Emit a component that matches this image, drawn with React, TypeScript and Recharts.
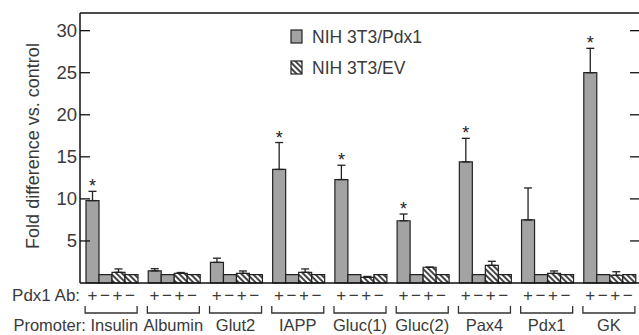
import React from 'react';
import { BarChart, Bar, XAxis, YAxis, ErrorBar, LabelList, Legend, ReferenceLine } from 'recharts';

const promoters = ['Insulin', 'Albumin', 'Glut2', 'IAPP', 'Gluc(1)', 'Gluc(2)', 'Pax4', 'Pdx1', 'GK'];
const pdx1Plus = [9.8, 1.45, 2.45, 13.5, 12.3, 7.4, 14.4, 7.5, 25.0];
const pdx1PlusErr = [1.1, 0.25, 0.5, 3.2, 1.7, 0.8, 2.8, 3.8, 2.9];
const pdx1Minus = [1, 1, 1, 1, 1, 1, 1, 1, 1];
const evPlus = [1.27, 1.15, 1.15, 1.27, 0.68, 1.87, 2.1, 1.15, 0.92];
const evPlusErr = [0.4, 0.1, 0.28, 0.4, 0.1, 0.0, 0.48, 0.28, 0.42];
const evMinus = [1, 1, 1, 1, 1, 1, 1, 1, 1];
const significant = [true, false, false, true, true, true, true, false, true];
const yTicks = [5, 10, 15, 20, 25, 30];
const abSigns = ['+', '−', '+', '−'];

const FONT = '"Liberation Sans", Arial, Helvetica, sans-serif';
const TEXT = '#3a3a3a';
const GRAY = '#a3a3a3';
const EDGE = '#222';

const data = promoters.map((p, i) => ({
  promoter: p,
  pdx1Plus: pdx1Plus[i],
  pdx1PlusErr: [0, pdx1PlusErr[i]],
  pdx1Minus: pdx1Minus[i],
  evPlus: evPlus[i],
  evPlusErr: [0, evPlusErr[i]],
  evMinus: evMinus[i],
}));

const YTick = (props: any) => {
  const { x, y, payload } = props;
  return (
    <g>
      <line x1={x} x2={x + 10} y1={y} y2={y} stroke="#111" strokeWidth={1.3} />
      <line x1={630} x2={640} y1={y} y2={y} stroke="#111" strokeWidth={1.3} />
      <text x={x - 3} y={y} textAnchor="end" dominantBaseline="central" fontFamily={FONT} fontSize={18.5} fill={TEXT}>
        {payload.value}
      </text>
    </g>
  );
};

const XTick = (props: any) => {
  const { x, y, payload, index } = props;
  const bw = 12.5;
  const offs = [-1.5 * bw, -0.5 * bw, 0.5 * bw, 1.5 * bw];
  return (
    <g fontFamily={FONT} fill={TEXT}>
      {offs.map((o, k) => (
        <text key={k} x={x + o} y={y + 12} textAnchor="middle" dominantBaseline="central" fontSize={17} fill={TEXT}>
          {abSigns[k]}
        </text>
      ))}
      <path d={`M${x - 26},${y + 23}V${y + 30}H${x + 26}V${y + 23}`} fill="none" stroke="#333" strokeWidth={1.3} />
      {index === 0 ? (
        <>
          <text x={x - 31} y={y + 12} textAnchor="end" dominantBaseline="central" fontSize={17} fill={TEXT}>Pdx1 Ab:</text>
          <text x={x + 27} y={y + 47.5} textAnchor="end" fontSize={16.5} fill={TEXT}>Promoter: Insulin</text>
        </>
      ) : (
        <text x={x} y={y + 47.5} textAnchor="middle" fontSize={16.5} fill={TEXT}>{payload.value}</text>
      )}
    </g>
  );
};

const Star = (props: any) => {
  const { x, y, width, height, value, index } = props;
  if (!significant[index] || !value) return null;
  const errTop = y - (pdx1PlusErr[index] * height) / value;
  return (
    <text x={x + width / 2} y={errTop + 1} textAnchor="middle" fontFamily={FONT} fontSize={18} fill="#222">
      *
    </text>
  );
};

const LegendBox = () => (
  <svg width={200} height={56}>
    <defs>
      <pattern id="hatchLegend" patternUnits="userSpaceOnUse" width={4} height={4} patternTransform="rotate(-45)">
        <rect width={4} height={4} fill="#fff" />
        <rect width={2} height={4} fill="#444" />
      </pattern>
    </defs>
    <rect x={2} y={2} width={11} height={13} fill={GRAY} stroke={EDGE} strokeWidth={1.2} />
    <text x={23} y={9} dominantBaseline="central" fontFamily={FONT} fontSize={17.5} fill={TEXT}>NIH 3T3/Pdx1</text>
    <rect x={2} y={33} width={11} height={13} fill="url(#hatchLegend)" stroke={EDGE} strokeWidth={1.2} />
    <text x={23} y={40} dominantBaseline="central" fontFamily={FONT} fontSize={17.5} fill={TEXT}>NIH 3T3/EV</text>
  </svg>
);

export default function App() {
  return (
    <div style={{ position: 'absolute', left: 0, top: 0, width: 639, height: 335, overflow: 'hidden', background: '#fff' }}>
      <BarChart
        width={640}
        height={335}
        data={data}
        margin={{ top: 13, right: 0, bottom: 0, left: 0 }}
        barCategoryGap={6}
        barGap={0}
      >
        <defs>
          <pattern id="hatch" patternUnits="userSpaceOnUse" width={4} height={4} patternTransform="rotate(-45)">
            <rect width={4} height={4} fill="#fff" />
            <rect width={2} height={4} fill="#444" />
          </pattern>
        </defs>
        <XAxis
          dataKey="promoter"
          height={52}
          interval={0}
          tickLine={false}
          tickSize={0}
          tickMargin={0}
          axisLine={{ stroke: '#111', strokeWidth: 1.5 }}
          tick={<XTick />}
        />
        <YAxis
          width={80}
          domain={[0, 32.1]}
          ticks={yTicks}
          tickLine={false}
          tickSize={0}
          tickMargin={0}
          axisLine={{ stroke: '#111', strokeWidth: 1.5 }}
          tick={<YTick />}
          label={{
            content: (p: any) => {
              const vb = p.viewBox;
              const cx = vb.x + 33;
              const cy = vb.y + vb.height / 2 - 2;
              return (
                <text x={cx} y={cy} transform={`rotate(-90 ${cx} ${cy})`} textAnchor="middle" dominantBaseline="central" fontFamily={FONT} fontSize={18} fill={TEXT}>
                  Fold difference vs. control
                </text>
              );
            },
          }}
        />
        <ReferenceLine y={32.1} stroke="#111" strokeWidth={1.5} />
        <Legend
          layout="vertical"
          align="center"
          verticalAlign="middle"
          wrapperStyle={{ position: 'absolute', left: 289, top: 28, width: 200, height: 56 }}
          content={() => <LegendBox />}
        />
        <Bar dataKey="pdx1Plus" name="NIH 3T3/Pdx1" fill={GRAY} stroke={EDGE} strokeWidth={1.2} isAnimationActive={false}>
          <ErrorBar dataKey="pdx1PlusErr" width={4} stroke={EDGE} strokeWidth={1.3} direction="y" />
          <LabelList dataKey="pdx1Plus" content={<Star />} />
        </Bar>
        <Bar dataKey="pdx1Minus" name="NIH 3T3/Pdx1 (−Ab)" fill={GRAY} stroke={EDGE} strokeWidth={1.2} isAnimationActive={false} />
        <Bar dataKey="evPlus" name="NIH 3T3/EV" fill="url(#hatch)" stroke={EDGE} strokeWidth={1.2} isAnimationActive={false}>
          <ErrorBar dataKey="evPlusErr" width={4} stroke={EDGE} strokeWidth={1.3} direction="y" />
        </Bar>
        <Bar dataKey="evMinus" name="NIH 3T3/EV (−Ab)" fill="url(#hatch)" stroke={EDGE} strokeWidth={1.2} isAnimationActive={false} />
      </BarChart>
    </div>
  );
}
